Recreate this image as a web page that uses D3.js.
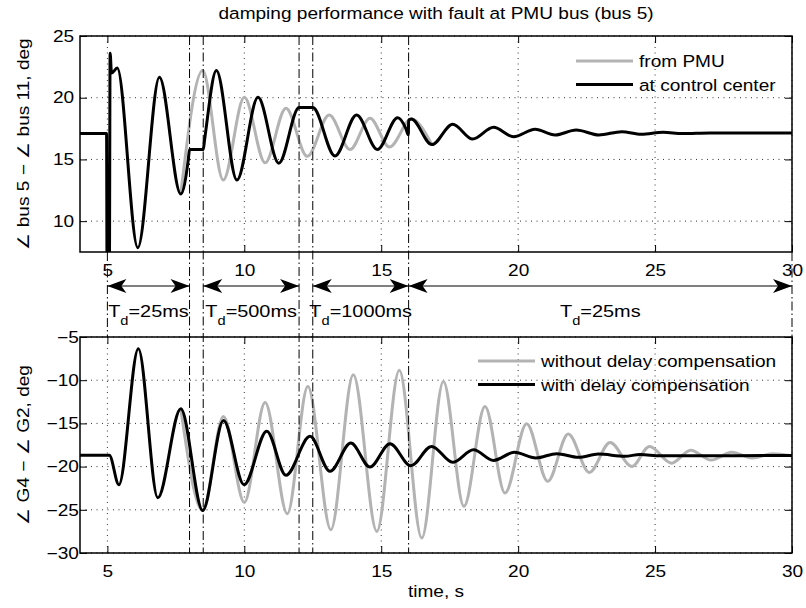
<!DOCTYPE html>
<meta charset="utf-8">
<style>
    body { margin: 0; background: #fff; }
    text { font-family: "Liberation Sans", Arial, sans-serif; fill: #000; }
    .axis path { display: none; }
    .axis line { stroke: #000; stroke-width: 1; }
    .grid line { stroke: #333; stroke-width: 1; stroke-dasharray: 1,4.5; }
    .frame { fill: none; stroke: #000; stroke-width: 1.5; }
    .switch { stroke: #000; stroke-width: 1; stroke-dasharray: 9,3,1.5,3; }
    .line { fill: none; stroke-width: 3; stroke-linejoin: round; }
</style>

<body>
    <script src="https://d3js.org/d3.v7.min.js"></script>
    <script>
        // ticks
        var timeTicks = [5, 10, 15, 20, 25, 30];
        var topTicks = [10, 15, 20, 25];
        var bottomTicks = [-30, -25, -20, -15, -10, -5];

        // top panel: bus 5 - bus 11 angle
        var pmuTime = [7.68, 8.48, 9.23, 10.0, 10.76, 11.52, 12.3, 13.1, 13.86, 14.59, 15.3, 16.1, 16.85];
        var pmuAngle = [12.2, 22.2, 13.33, 20.03, 14.73, 19.14, 15.25, 18.6, 15.8, 18.33, 16.0, 18.27, 16.2];

        var ccTime = [4, 4.97, 4.99, 5.07, 5.1, 5.15, 5.36, 6.11, 6.9, 7.68, 7.95, 8.0, 8.5, 8.55, 8.98, 9.73,
            10.5, 11.26, 12.0, 12.5, 13.31, 14.1, 14.86, 15.6, 15.9, 15.99, 16.0, 16.1, 16.85, 17.61, 18.34,
            19.1, 19.83, 20.62, 21.35, 22.12, 22.95, 23.78, 24.5, 25.3, 26.0, 27, 30];
        var ccAngle = [17.1, 17.1, 4, 4, 23.6, 22.0, 22.4, 7.85, 21.65, 12.2, 14.9, 15.8, 15.8, 16.6, 22.2, 13.33,
            20.03, 14.7, 19.2, 19.2, 15.28, 18.6, 15.8, 18.38, 17.5, 17.0, 18.15, 18.27, 16.2, 17.85, 16.65,
            17.6, 16.84, 17.44, 16.98, 17.38, 16.98, 17.25, 17.04, 17.2, 17.1, 17.15, 17.15];

        // bottom panel: G4 - G2 angle
        var noCompTime = [7.68, 8.48, 9.24, 10.0, 10.76, 11.57, 12.32, 13.16, 13.98, 14.84, 15.66, 16.48, 17.27,
            18.02, 18.79, 19.52, 20.31, 21.08, 21.83, 22.6, 23.36, 24.15, 24.8, 25.6, 26.3, 27.05, 27.8, 28.55, 29.3, 30];
        var noCompAngle = [-13.3, -25.07, -14.2, -24.15, -12.57, -25.45, -10.72, -27.3, -9.36, -27.5, -8.86, -28.27, -10.14,
            -24.6, -13.03, -23.06, -15.03, -21.7, -16.23, -20.67, -17.2, -19.98, -17.66, -19.6, -18.1, -19.25, -18.35, -19.0, -18.5, -18.75];

        var compTime = [4, 5.07, 5.42, 6.13, 6.84, 7.68, 8.48, 9.24, 9.99, 10.82, 11.52, 12.4, 13.13, 13.89, 14.59,
            15.32, 16.08, 16.84, 17.61, 18.37, 19.1, 19.86, 20.65, 21.41, 22.2, 22.93, 23.9, 24.45, 25.2, 30];
        var compAngle = [-18.7, -18.7, -22.1, -6.35, -23.6, -13.3, -25.07, -14.65, -22.1, -15.9, -21.0, -16.5, -20.55, -17.27, -20.05,
            -17.35, -19.9, -17.66, -19.5, -18.05, -19.28, -18.35, -19.0, -18.5, -18.93, -18.55, -18.8, -18.6, -18.75, -18.72];

        // delay switching: lines through both panels, plus the ends of the arrow row
        var switchTimes = [8, 8.5, 12, 12.5, 16];
        var gapOnlyTimes = [5, 30];
        var delayStart = [5, 8.5, 12.5, 16];
        var delayEnd = [8, 12, 16, 30];
        var delayLabels = ["=25ms", "=500ms", "=1000ms", "=25ms"];

        var width = 806,
            height = 608,
            sx = 1.17,   // text in the original is drawn wide
            fs = 16.3;

        var svg = d3.select("body").append("svg")
            .attr("width", width)
            .attr("height", height);

        svg.append("rect").attr("width", width).attr("height", height).attr("fill", "#fff");

        var x = d3.scaleLinear().domain([4, 30]).range([80, 792]);
        var yTop = d3.scaleLinear().domain([7.5, 25]).range([252, 36]);
        var yBot = d3.scaleLinear().domain([-30, -5]).range([553, 337]);

        var defs = svg.append("defs");
        defs.append("marker")
            .attr("id", "head")
            .attr("markerUnits", "userSpaceOnUse")
            .attr("viewBox", "-20 -8 21 16")
            .attr("refX", 0).attr("refY", 0)
            .attr("markerWidth", 21).attr("markerHeight", 16)
            .attr("orient", "auto-start-reverse")
            .append("path")
            .attr("d", "M0,0L-19,-7L-14,0L-19,7Z")
            .attr("fill", "#000");

        function stretched(sel, px, py, str, size, anchor) {
            return sel.append("text")
                .attr("transform", "translate(" + px + "," + py + ") scale(" + sx + ",1)")
                .attr("text-anchor", anchor)
                .style("font-size", size + "px")
                .text(str);
        }

        function panel(y, ticks, id, labelPad) {
            var g = svg.append("g");

            defs.append("clipPath").attr("id", id)
                .append("rect")
                .attr("x", x.range()[0]).attr("y", y.range()[1])
                .attr("width", x.range()[1] - x.range()[0])
                .attr("height", y.range()[0] - y.range()[1]);

            // dotted grid
            var grid = g.append("g").attr("class", "grid");
            grid.selectAll(".gx").data(timeTicks).enter().append("line")
                .attr("x1", function(d) { return x(d); })
                .attr("x2", function(d) { return x(d); })
                .attr("y1", y.range()[1]).attr("y2", y.range()[0]);
            grid.selectAll(".gy").data(ticks).enter().append("line")
                .attr("x1", x.range()[0]).attr("x2", x.range()[1])
                .attr("y1", function(d) { return y(d); })
                .attr("y2", function(d) { return y(d); });

            g.append("g").attr("class", "axis")
                .attr("transform", "translate(0," + y.range()[0] + ")")
                .call(d3.axisBottom(x).tickValues(timeTicks).tickSize(-7).tickPadding(12).tickFormat(d3.format("d")));
            g.append("g").attr("class", "axis")
                .attr("transform", "translate(0," + y.range()[1] + ")")
                .call(d3.axisTop(x).tickValues(timeTicks).tickSize(-7).tickFormat(""));
            g.append("g").attr("class", "axis")
                .attr("transform", "translate(" + x.range()[0] + ",0)")
                .call(d3.axisLeft(y).tickValues(ticks).tickSize(-7).tickPadding(labelPad).tickFormat(d3.format("d")));
            g.append("g").attr("class", "axis")
                .attr("transform", "translate(" + x.range()[1] + ",0)")
                .call(d3.axisRight(y).tickValues(ticks).tickSize(-7).tickFormat(""));

            g.selectAll(".axis text")
                .style("font-size", fs + "px")
                .attr("transform", "scale(" + sx + ",1)");

            return g;
        }

        var topPanel = panel(yTop, topTicks, "clipTop", 5);
        var botPanel = panel(yBot, bottomTicks, "clipBot", 1);

        // dash-dot lines where the delay changes
        var switches = svg.append("g");
        switches.selectAll(".full")
            .data(switchTimes).enter().append("line")
            .attr("class", "switch")
            .attr("x1", function(d) { return x(d); })
            .attr("x2", function(d) { return x(d); })
            .attr("y1", yTop.range()[1])
            .attr("y2", yBot.range()[0]);
        switches.selectAll(".gap")
            .data(gapOnlyTimes).enter().append("line")
            .attr("class", "switch")
            .attr("x1", function(d) { return x(d); })
            .attr("x2", function(d) { return x(d); })
            .attr("y1", yTop.range()[0])
            .attr("y2", yBot.range()[1]);

        function curve(g, times, values, y, color, clip) {
            var line = d3.line()
                .curve(d3.curveMonotoneX)
                .x(function(d) { return x(d[0]); })
                .y(function(d) { return y(d[1]); });
            g.append("path")
                .datum(d3.zip(times, values))
                .attr("class", "line")
                .attr("clip-path", "url(#" + clip + ")")
                .style("stroke", color)
                .attr("d", line);
        }

        var grey = "#b3b3b3";
        curve(topPanel, pmuTime, pmuAngle, yTop, grey, "clipTop");
        curve(topPanel, ccTime, ccAngle, yTop, "#000", "clipTop");
        curve(botPanel, noCompTime, noCompAngle, yBot, grey, "clipBot");
        curve(botPanel, compTime, compAngle, yBot, "#000", "clipBot");

        svg.append("rect").attr("class", "frame")
            .attr("x", 80).attr("y", 36).attr("width", 712).attr("height", 216);
        svg.append("rect").attr("class", "frame")
            .attr("x", 80).attr("y", 337).attr("width", 712).attr("height", 216);

        // legends
        function legend(items, colors, lx, ly) {
            var lg = svg.append("g");
            items.forEach(function(name, i) {
                var yy = ly + i * 23.5;
                lg.append("line")
                    .attr("x1", lx).attr("x2", lx + 57)
                    .attr("y1", yy).attr("y2", yy)
                    .style("stroke", colors[i]).style("stroke-width", 3);
                stretched(lg, lx + 63, yy + 6, name, fs, "start");
            });
        }
        legend(["from PMU", "at control center"], [grey, "#000"], 576, 61);
        legend(["without delay compensation", "with delay compensation"], [grey, "#000"], 478, 361);

        // delay arrows
        var arrows = svg.append("g");
        arrows.selectAll("line")
            .data(d3.zip(delayStart, delayEnd)).enter().append("line")
            .attr("x1", function(d) { return x(d[0]); })
            .attr("x2", function(d) { return x(d[1]); })
            .attr("y1", 286).attr("y2", 286)
            .attr("stroke", "#000").attr("stroke-width", 1)
            .attr("marker-start", "url(#head)")
            .attr("marker-end", "url(#head)");

        d3.zip(delayStart, delayEnd, delayLabels).forEach(function(d) {
            var t = stretched(arrows, x((d[0] + d[1]) / 2), 317, "T", 17, "middle");
            t.append("tspan").attr("dy", 8).style("font-size", "12.5px").text("d");
            t.append("tspan").attr("dy", -8).text(d[2]);
        });

        // titles
        stretched(svg, 436, 19, "damping performance with fault at PMU bus (bus 5)", fs, "middle");
        stretched(svg, 436, 597, "time, s", fs, "middle");

        svg.append("text")
            .attr("transform", "translate(29,144) rotate(-90) scale(" + sx + ",1)")
            .attr("text-anchor", "middle")
            .style("font-size", fs + "px")
            .text("\u2220 bus 5 \u2212 \u2220 bus 11, deg");
        svg.append("text")
            .attr("transform", "translate(29,445) rotate(-90) scale(" + sx + ",1)")
            .attr("text-anchor", "middle")
            .style("font-size", fs + "px")
            .text("\u2220 G4 \u2212 \u2220 G2, deg");
    </script>
</body>
